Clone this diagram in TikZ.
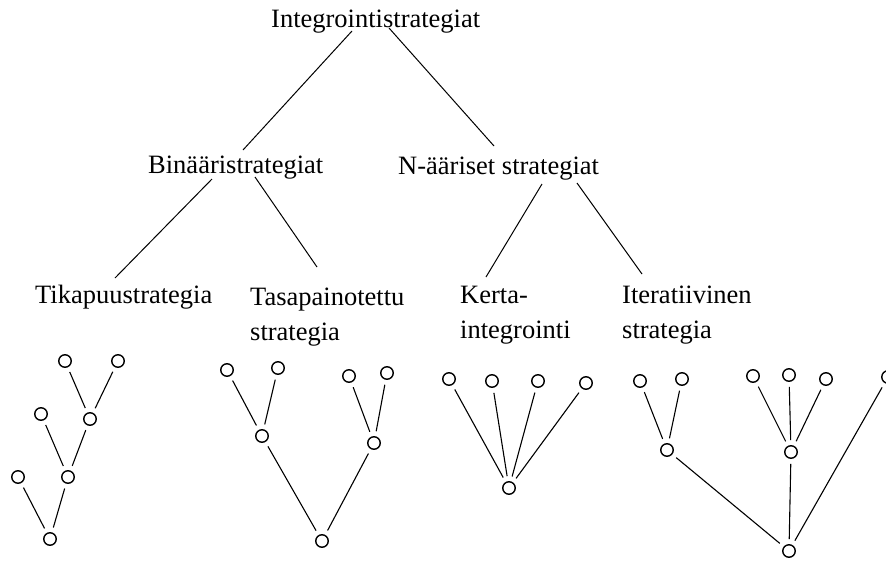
\documentclass[tikz,border=0pt]{standalone}
\usepackage{fontspec}
\setmainfont{Liberation Serif}
\usetikzlibrary{calc}

\tikzset{
  label/.style={anchor=base west, inner sep=0pt, font=\fontsize{26.5}{30}\selectfont},
  leaf/.style={circle, draw, line width=1.4pt, inner sep=0pt, minimum size=12.5pt},
  branch/.style={line width=1pt},
  edge/.style={line width=1.1pt, shorten <=5pt, shorten >=5pt},
}

\begin{document}
\begin{tikzpicture}[x=1pt, y=-1pt]
\useasboundingbox (0,0) rectangle (886,560);

% category labels
\node[label] (root) at (271,27)  {Integrointistrategiat};
\node[label] (bin)  at (148,173) {Binääristrategiat};
\node[label] (nar)  at (398,174) {N-ääriset strategiat};
\node[label] (tik)  at (35,303)  {Tikapuustrategia};
\node[label] (tas)  at (250,305) {Tasapainotettu};
\node[label] (tasb) at (250,340) {strategia};
\node[label] (ker)  at (460,303) {Kerta-};
\node[label] (kerb) at (460,338) {integrointi};
\node[label] (ite)  at (622,303) {Iteratiivinen};
\node[label] (iteb) at (622,338) {strategia};

% hierarchy links
\draw[branch] ($(root.base west)+(81,4)$)  -- ($(bin.base west)+(95,-23)$);
\draw[branch] ($(root.base west)+(118,1)$) -- ($(nar.base west)+(96,-28)$);
\draw[branch] ($(bin.base west)+(64,6)$)   -- ($(tik.base west)+(80,-25)$);
\draw[branch] ($(bin.base west)+(107,4)$)  -- ($(tas.base west)+(67,-38)$);
\draw[branch] ($(nar.base west)+(144,10)$) -- ($(ker.base west)+(26,-26)$);
\draw[branch] ($(nar.base west)+(179,9)$)  -- ($(ite.base west)+(20,-29)$);

% ladder tree
\node[leaf] (a1) at (65,361) {};
\node[leaf] (a2) at (118,361) {};
\node[leaf] (a3) at (41,414) {};
\node[leaf] (a4) at (90,419) {};
\node[leaf] (a5) at (18,477) {};
\node[leaf] (a6) at (68,477) {};
\node[leaf] (a7) at (50,539) {};
\draw[edge] (a1) -- (a4);
\draw[edge] (a2) -- (a4);
\draw[edge] (a3) -- (a6);
\draw[edge] (a4) -- (a6);
\draw[edge] (a5) -- (a7);
\draw[edge] (a6) -- (a7);

% balanced tree
\node[leaf] (b1) at (227,370) {};
\node[leaf] (b2) at (278,368) {};
\node[leaf] (b3) at (262,436) {};
\node[leaf] (b4) at (349,376) {};
\node[leaf] (b5) at (387,373) {};
\node[leaf] (b6) at (374,443) {};
\node[leaf] (b7) at (322,541) {};
\draw[edge] (b1) -- (b3);
\draw[edge] (b2) -- (b3);
\draw[edge] (b4) -- (b6);
\draw[edge] (b5) -- (b6);
\draw[edge] (b3) -- (b7);
\draw[edge] (b6) -- (b7);

% single-step tree
\node[leaf] (c1) at (449,379) {};
\node[leaf] (c2) at (492,381) {};
\node[leaf] (c3) at (538,381) {};
\node[leaf] (c4) at (586,383) {};
\node[leaf] (c5) at (509,488) {};
\foreach \n in {c1,c2,c3,c4} \draw[edge] (\n) -- (c5);

% iterative tree
\node[leaf] (d1) at (640,381) {};
\node[leaf] (d2) at (682,379) {};
\node[leaf] (d3) at (667,450) {};
\node[leaf] (d4) at (753,376) {};
\node[leaf] (d5) at (789,375) {};
\node[leaf] (d6) at (826,379) {};
\node[leaf] (d7) at (888,377) {};
\node[leaf] (d8) at (791,452) {};
\node[leaf] (d9) at (789,551) {};
\draw[edge] (d1) -- (d3);
\draw[edge] (d2) -- (d3);
\draw[edge] (d4) -- (d8);
\draw[edge] (d5) -- (d8);
\draw[edge] (d6) -- (d8);
\draw[edge] (d3) -- (d9);
\draw[edge] (d8) -- (d9);
\draw[edge] (d7) -- (d9);
\end{tikzpicture}
\end{document}
